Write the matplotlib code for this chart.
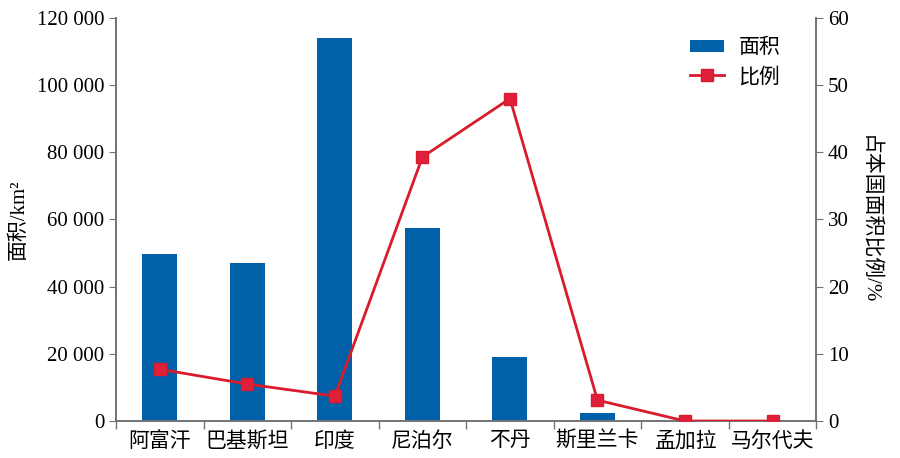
import numpy as np
import matplotlib
matplotlib.use("Agg")
import matplotlib.pyplot as plt
from matplotlib.ticker import FuncFormatter, FixedLocator

plt.rcParams['font.family'] = ['Liberation Serif', 'Noto Sans CJK SC', 'DejaVu Sans']

countries = ['阿富汗', '巴基斯坦', '印度', '尼泊尔', '不丹', '斯里兰卡', '孟加拉', '马尔代夫']
area = [49700, 47000, 114000, 57500, 19000, 2300, 0, 0]
ratio = [7.7, 5.5, 3.7, 39.3, 48.0, 3.1, 0, 0]

bar_color = '#0061a9'
line_color = '#d81c2c'
axis_color = '#6f7378'

fig = plt.figure(figsize=(9, 4.58), dpi=100)
ax1 = fig.add_axes([0.129, 0.0808, 0.778, 0.88])
ax2 = ax1.twinx()

x = np.arange(len(countries))
ax1.bar(x, area, width=0.4, color=bar_color, label='面积', zorder=2)
ax2.plot(x, ratio, color=line_color, lw=2, marker='s', markersize=9,
         markerfacecolor='#e0203a', markeredgecolor=line_color, label='比例', zorder=3)

ax1.set_xlim(-0.5, len(countries) - 0.5)
ax1.set_ylim(0, 120000)
ax2.set_ylim(0, 60)
ax1.set_yticks(np.arange(0, 120001, 20000))
ax2.set_yticks(np.arange(0, 61, 10))
ax1.yaxis.set_major_formatter(FuncFormatter(lambda v, p: f"{int(v):,}".replace(',', ' ')))

ax1.set_xticks(x)
ax1.set_xticklabels(countries)
ax1.xaxis.set_minor_locator(FixedLocator(np.arange(-0.5, len(countries), 1)))
ax1.tick_params(axis='x', which='major', length=0, labelsize=15, pad=8)
ax1.tick_params(axis='x', which='minor', length=6, color=axis_color, width=1)
ax1.tick_params(axis='y', length=5, color=axis_color, labelsize=15)
ax2.tick_params(axis='y', length=5, color=axis_color, labelsize=15)

for a in (ax1, ax2):
    a.spines['top'].set_visible(False)
    for s in ('left', 'right', 'bottom'):
        a.spines[s].set_color(axis_color)
        a.spines[s].set_linewidth(1.2)

ax1.set_ylabel('面积/km²', fontsize=15, labelpad=6)
ax2.set_ylabel('占本国面积比例/%', fontsize=15, rotation=270, labelpad=22)

h1, l1 = ax1.get_legend_handles_labels()
h2, l2 = ax2.get_legend_handles_labels()
ax2.legend(h1 + h2, l1 + l2, loc='upper right', bbox_to_anchor=(0.975, 0.995),
           frameon=False, fontsize=15, handlelength=1.6, handleheight=0.5,
           labelspacing=0.45, handletextpad=0.7)

fig.savefig('out.png', dpi=100)
